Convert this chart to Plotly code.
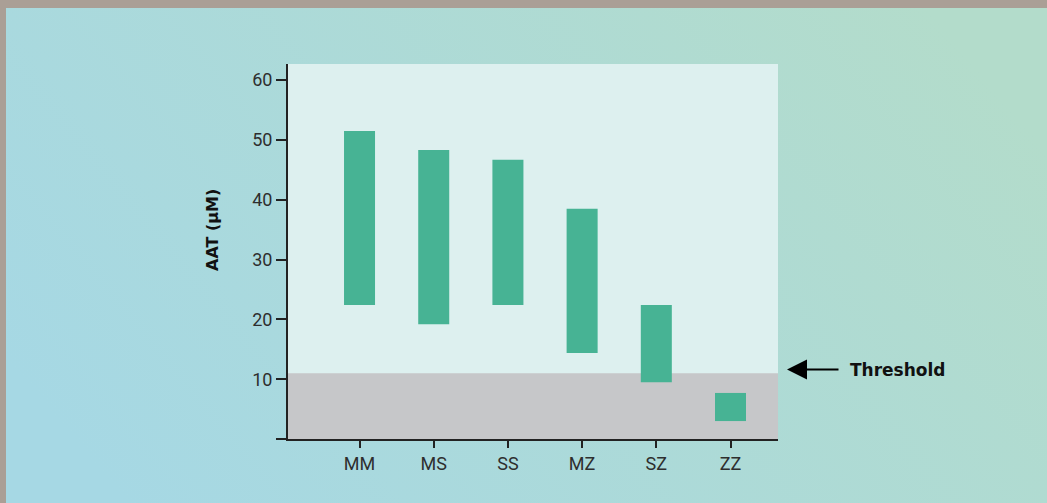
import base64
import plotly.graph_objects as go

# ---- data ----
genotypes = ["MM", "MS", "SS", "MZ", "SZ", "ZZ"]
aat_low = [22.4, 19.2, 22.4, 14.4, 9.5, 3.0]
aat_high = [51.5, 48.3, 46.7, 38.5, 22.4, 7.7]
threshold = 11.0
y_ticks = [0, 10, 20, 30, 40, 50, 60]
y_ticktext = ["", "10", "20", "30", "40", "50", "60"]

W, H = 1047, 503
L, R, T, B = 288, 269, 64, 64
pw, ph = W - L - R, H - T - B

FONT = "Roboto"
BOLD = "DejaVu Sans"
BAR = "#47b394"

fig = go.Figure()
fig.add_trace(go.Bar(
    x=list(range(len(genotypes))),
    y=[h - l for h, l in zip(aat_high, aat_low)],
    base=aat_low,
    width=0.418,
    marker=dict(color=BAR, line=dict(width=0)),
    hoverinfo="skip",
))

# background gradient image (whole figure)
svg = ('<svg xmlns="http://www.w3.org/2000/svg" width="1047" height="503" preserveAspectRatio="none">'
       '<defs><linearGradient id="g" x1="0" y1="0.7" x2="1" y2="0.3">'
       '<stop offset="0" stop-color="#a6d8e4"/><stop offset="1" stop-color="#b3dccb"/>'
       '</linearGradient></defs><rect width="1047" height="503" fill="url(#g)"/></svg>')
src = "data:image/svg+xml;base64," + base64.b64encode(svg.encode()).decode()
fig.add_layout_image(dict(
    source=src, xref="paper", yref="paper",
    x=-L / pw, y=1 + T / ph, sizex=W / pw, sizey=H / ph,
    sizing="stretch", layer="below", xanchor="left", yanchor="top",
))

shapes = [
    dict(type="rect", xref="paper", yref="paper", x0=0, x1=1, y0=0, y1=1,
         fillcolor="#ddf0ef", line=dict(width=0), layer="below"),
    dict(type="rect", xref="paper", yref="y", x0=0, x1=1, y0=0, y1=threshold,
         fillcolor="#c6c7c9", line=dict(width=0), layer="below"),
    dict(type="rect", xref="paper", yref="paper", x0=-L / pw - 0.01, x1=1 + R / pw + 0.01,
         y0=1 + (T - 8) / ph, y1=1 + T / ph + 0.01,
         fillcolor="#aa9f96", line=dict(width=0), layer="above"),
    dict(type="rect", xref="paper", yref="paper", x0=-L / pw - 0.01, x1=(6 - L) / pw,
         y0=-B / ph - 0.01, y1=1 + T / ph + 0.01,
         fillcolor="#aa9f96", line=dict(width=0), layer="above"),
]

ty = (H - B - 369.5) / ph
annotations = [
    dict(text="<b>AAT (µM)</b>", xref="paper", yref="paper",
         x=(212 - L) / pw, y=(H - B - 230) / ph, textangle=-90, showarrow=False,
         font=dict(family=BOLD, size=16, color="#111"), xanchor="center", yanchor="middle"),
    dict(text="<b>Threshold</b>", xref="paper", yref="paper",
         x=(848 - L) / pw, y=ty, showarrow=False, xanchor="left", yanchor="middle",
         font=dict(family=BOLD, size=17, color="#111")),
    dict(text="", xref="paper", yref="paper",
         x=(787 - L) / pw, y=ty, ax=53, ay=0,
         showarrow=True, arrowhead=2, arrowsize=2, arrowwidth=2, arrowcolor="#000"),
]

fig.update_layout(
    width=W, height=H,
    margin=dict(l=L, r=R, t=T, b=B, pad=0),
    paper_bgcolor="#a9d9dd",
    plot_bgcolor="rgba(0,0,0,0)",
    showlegend=False,
    shapes=shapes,
    annotations=annotations,
    font=dict(family=FONT, size=18, color="#2e2e2e"),
    xaxis=dict(
        range=[-0.964, 5.64], tickvals=list(range(len(genotypes))), ticktext=genotypes,
        showgrid=False, zeroline=False, showline=True, linecolor="#222", linewidth=2,
        ticks="outside", ticklen=7, tickwidth=2, tickcolor="#222",
        tickfont=dict(family=FONT, size=18, color="#2e2e2e"),
    ),
    yaxis=dict(
        range=[0, 62.7], tickvals=y_ticks, ticktext=y_ticktext,
        showgrid=False, zeroline=False, showline=True, linecolor="#222", linewidth=2,
        ticks="outside", ticklen=10, tickwidth=2, tickcolor="#222",
        tickfont=dict(family=FONT, size=18, color="#2e2e2e"),
    ),
)

fig.write_html("out.html", config={"displayModeBar": False},
               post_script="document.body.style.margin='0';document.body.style.overflow='hidden';")
